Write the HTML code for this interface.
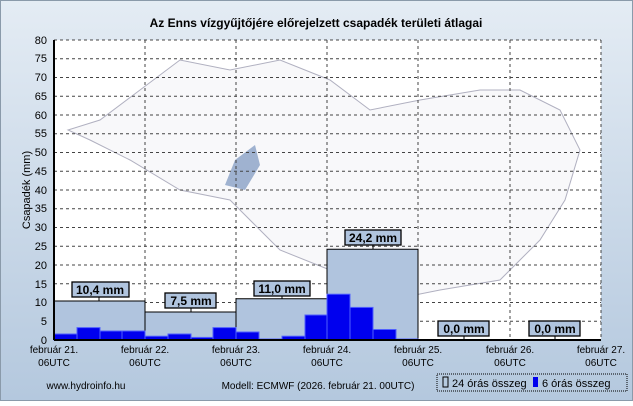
<!DOCTYPE html><html><head><meta charset="utf-8"><style>
body{margin:0;width:633px;height:401px;overflow:hidden;font-family:"Liberation Sans",sans-serif}
</style></head><body>
<svg width="633" height="401" xmlns="http://www.w3.org/2000/svg" font-family="Liberation Sans, sans-serif">
<defs><linearGradient id="g" x1="0" y1="0" x2="0" y2="1"><stop offset="0" stop-color="#e4ecf4"/><stop offset="1" stop-color="#b4c8de"/></linearGradient></defs>
<rect x="0.5" y="0.5" width="632" height="400" fill="url(#g)" stroke="#8a9aaa"/>
<text x="316" y="27" font-size="12" font-weight="bold" text-anchor="middle">Az Enns vízgyűjtőjére előrejelzett csapadék területi átlagai</text>
<rect x="54" y="40" width="547" height="300" fill="#fff"/>
<path d="M68,130 L100,120 L140,90 L180,60 L230,70 L280,60 L330,80 L370,110 L420,100 L480,90 L520,90 L560,110 L580,150 L565,200 L540,240 L500,280 L440,290 L390,300 L330,270 L280,250 L230,200 L180,190 L130,160 L90,140 Z" fill="#f8f8fa" stroke="#b0b0c0" stroke-width="1"/>
<path d="M235,160 L255,145 L260,165 L245,190 L225,185 Z" fill="#9fb2d0"/>
<g stroke="#444" stroke-dasharray="3,3" stroke-width="1">
<line x1="54" x2="601" y1="321.25" y2="321.25"/><line x1="54" x2="601" y1="302.5" y2="302.5"/><line x1="54" x2="601" y1="283.75" y2="283.75"/><line x1="54" x2="601" y1="265" y2="265"/><line x1="54" x2="601" y1="246.25" y2="246.25"/><line x1="54" x2="601" y1="227.5" y2="227.5"/><line x1="54" x2="601" y1="208.75" y2="208.75"/><line x1="54" x2="601" y1="190" y2="190"/><line x1="54" x2="601" y1="171.25" y2="171.25"/><line x1="54" x2="601" y1="152.5" y2="152.5"/><line x1="54" x2="601" y1="133.75" y2="133.75"/><line x1="54" x2="601" y1="115" y2="115"/><line x1="54" x2="601" y1="96.25" y2="96.25"/><line x1="54" x2="601" y1="77.5" y2="77.5"/><line x1="54" x2="601" y1="58.75" y2="58.75"/><line x1="54" x2="601" y1="40" y2="40"/>
<line x1="145" x2="145" y1="40" y2="340"/><line x1="236" x2="236" y1="40" y2="340"/><line x1="327" x2="327" y1="40" y2="340"/><line x1="418" x2="418" y1="40" y2="340"/><line x1="510" x2="510" y1="40" y2="340"/><line x1="601" x2="601" y1="40" y2="340"/>
</g>
<g fill="#b0c4de" stroke="#000" stroke-width="1">
<rect x="54" y="301" width="91" height="39"/><rect x="145" y="312" width="91" height="28"/><rect x="236" y="298.75" width="91" height="41.25"/><rect x="327" y="249.25" width="91" height="90.75"/>
</g>
<g fill="#0000ee" stroke="#5060ff" stroke-width="1">
<rect x="54" y="334" width="23" height="6"/><rect x="77" y="327.6" width="23" height="12.4"/><rect x="100" y="331" width="22" height="9"/><rect x="122" y="331" width="23" height="9"/>
<rect x="145" y="336.2" width="23" height="3.8"/><rect x="168" y="334" width="23" height="6"/><rect x="191" y="337.4" width="22" height="2.6"/><rect x="213" y="327.6" width="23" height="12.4"/>
<rect x="236" y="332" width="23" height="8"/><rect x="259" y="339" width="23" height="1"/><rect x="282" y="336.2" width="23" height="3.8"/><rect x="305" y="315" width="22" height="25"/>
<rect x="327" y="294.2" width="23" height="45.8"/><rect x="350" y="307.4" width="23" height="32.6"/><rect x="373" y="329.5" width="23" height="10.5"/><rect x="396" y="339" width="22" height="1"/>
</g>
<line x1="54" x2="54" y1="40" y2="340" stroke="#000" stroke-width="2"/>
<line x1="54" x2="601" y1="340" y2="340" stroke="#000" stroke-width="2"/>
<g stroke="#000"><line x1="99" x2="99" y1="296" y2="301"/><line x1="191" x2="191" y1="307" y2="312"/><line x1="282" x2="282" y1="294" y2="299"/><line x1="373" x2="373" y1="244" y2="249"/><line x1="464" x2="464" y1="335" y2="340"/><line x1="555" x2="555" y1="335" y2="340"/></g>
<g fill="#b0c4de" stroke="#000" stroke-width="1.3">
<rect x="72" y="282" width="57" height="15"/><rect x="165" y="293" width="51" height="15"/><rect x="254" y="281" width="56" height="15"/><rect x="345" y="230" width="56" height="15"/><rect x="438" y="321" width="51" height="15"/><rect x="529" y="321" width="51" height="15"/>
</g>
<g font-size="12" font-weight="bold" text-anchor="middle">
<text x="100" y="294">10,4 mm</text><text x="191" y="305">7,5 mm</text><text x="282" y="293">11,0 mm</text><text x="373" y="242">24,2 mm</text><text x="464" y="333">0,0 mm</text><text x="555" y="333">0,0 mm</text>
</g>
<g font-size="11" text-anchor="end" fill="#000">
<text x="47" y="344">0</text><text x="47" y="325">5</text><text x="47" y="306">10</text><text x="47" y="288">15</text><text x="47" y="269">20</text><text x="47" y="250">25</text><text x="47" y="231">30</text><text x="47" y="212">35</text><text x="47" y="194">40</text><text x="47" y="175">45</text><text x="47" y="156">50</text><text x="47" y="137">55</text><text x="47" y="119">60</text><text x="47" y="100">65</text><text x="47" y="81">70</text><text x="47" y="62">75</text><text x="47" y="44">80</text>
</g>
<text transform="translate(30,190) rotate(-90)" font-size="11" text-anchor="middle">Csapadék (mm)</text>
<g font-size="10" text-anchor="middle">
<text x="54" y="353">február 21.</text><text x="54" y="366">06UTC</text>
<text x="145" y="353">február 22.</text><text x="145" y="366">06UTC</text>
<text x="236" y="353">február 23.</text><text x="236" y="366">06UTC</text>
<text x="327" y="353">február 24.</text><text x="327" y="366">06UTC</text>
<text x="418" y="353">február 25.</text><text x="418" y="366">06UTC</text>
<text x="510" y="353">február 26.</text><text x="510" y="366">06UTC</text>
<text x="601" y="353">február 27.</text><text x="601" y="366">06UTC</text>
<text x="86" y="389">www.hydroinfo.hu</text>
<text x="318" y="389">Modell: ECMWF (2026. február 21. 00UTC)</text>
</g>
<rect x="437" y="374" width="190" height="17" fill="none" stroke="#000" stroke-dasharray="1,1"/>
<rect x="443" y="377" width="5" height="10" fill="none" stroke="#000"/>
<text x="452" y="387" font-size="11">24 órás összeg</text>
<rect x="533" y="377" width="5" height="10" fill="#0000ee"/>
<text x="542" y="387" font-size="11">6 órás összeg</text>
</svg>
</body></html>
